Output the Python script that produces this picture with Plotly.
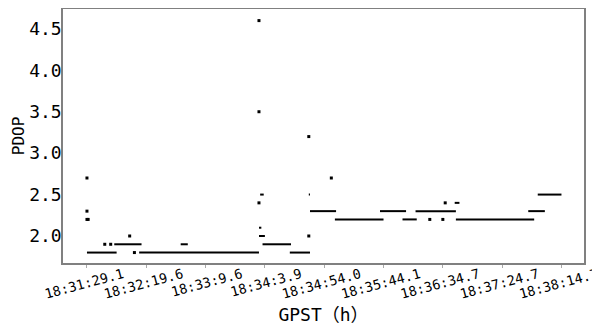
import plotly.graph_objects as go

# Epoch index axis, tick labels every 50 epochs
tick_idx = [0, 50, 100, 150, 200, 250, 300, 350, 400]
tick_labels = ["18:31:29.1", "18:32:19.6", "18:33:9.6", "18:34:3.9", "18:34:54.0",
               "18:35:44.1", "18:36:34.7", "18:37:24.7", "18:38:14.7"]

# Runs of constant PDOP (first epoch, last epoch, value)
run_start = [0, 23, 44, 79, 145, 145, 146, 148, 171, 187, 188, 209, 247, 266, 277, 310, 311, 372, 380]
run_end   = [25, 46, 145, 85, 150, 147, 149, 172, 188, 188, 210, 250, 269, 278, 311, 314, 377, 386, 400]
run_pdop  = [1.8, 1.9, 1.8, 1.9, 2.0, 2.1, 2.5, 1.9, 1.8, 2.5, 2.3, 2.2, 2.3, 2.2, 2.3, 2.4, 2.2, 2.3, 2.5]

# Isolated epochs
pt_idx  = [0, 0, 0, 1, 15, 20, 36, 40, 145, 145, 145, 187, 187, 206, 289, 300, 302]
pt_pdop = [2.7, 2.3, 2.2, 2.2, 1.9, 1.9, 2.0, 1.8, 4.6, 3.5, 2.4, 3.2, 2.0, 2.7, 2.2, 2.2, 2.4]

seg_x, seg_y = [], []
for s, e, v in zip(run_start, run_end, run_pdop):
    seg_x += [s, e, None]
    seg_y += [v, v, None]

FONT = "DejaVu Sans Mono, Noto Sans CJK SC"

fig = go.Figure()
fig.add_trace(go.Scatter(x=seg_x, y=seg_y, mode="lines",
                         line=dict(color="black", width=2), showlegend=False))
fig.add_trace(go.Scatter(x=pt_idx, y=pt_pdop, mode="markers",
                         marker=dict(color="black", size=3, symbol="square", line=dict(width=0)),
                         showlegend=False))

fig.update_layout(
    width=600, height=325,
    margin=dict(l=55, r=24, t=1, b=70, autoexpand=False),
    plot_bgcolor="white", paper_bgcolor="white",
    font=dict(family=FONT, color="black"),
    xaxis=dict(
        range=[-20.2, 419], automargin=False,
        tickmode="array", tickvals=tick_idx, ticktext=tick_labels,
        tickangle=-15, tickfont=dict(size=13.5, family=FONT),
        ticks="outside", ticklen=3, tickcolor="#aaaaaa",
        ticklabelshift=36, ticklabelstandoff=-6, ticklabeloverflow="allow",
        showgrid=False, zeroline=False,
        showline=True, linecolor="#808080", linewidth=1.5, mirror=True,
        title=dict(text="GPST（h）", font=dict(size=18, family=FONT), standoff=8),
    ),
    yaxis=dict(
        range=[1.674, 4.74], automargin=False,
        tickvals=[2.0, 2.5, 3.0, 3.5, 4.0, 4.5], tickformat=".1f",
        tickfont=dict(size=18, family=FONT),
        ticks="", ticklabelstandoff=-4, showgrid=False, zeroline=False,
        showline=True, linecolor="#808080", linewidth=1.5, mirror=True,
        title=dict(text="PDOP", font=dict(size=16, family=FONT), standoff=1),
    ),
)

fig.write_html("out.html")
